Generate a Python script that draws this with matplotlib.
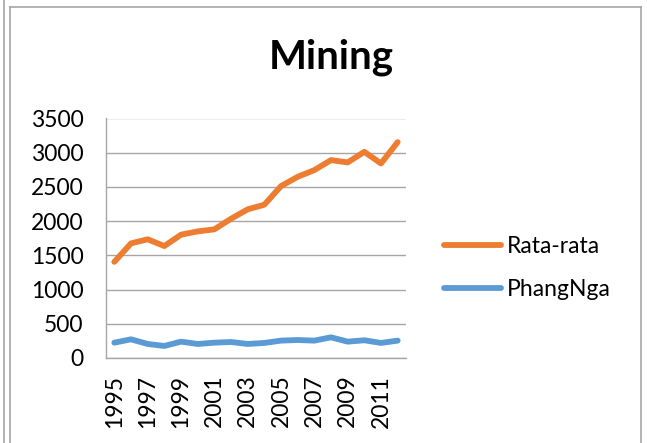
import matplotlib
matplotlib.use("Agg")
import matplotlib.pyplot as plt
from matplotlib.lines import Line2D

years = list(range(1995, 2013))
rata_rata = [1405, 1675, 1735, 1636, 1802, 1850, 1880, 2035, 2172, 2240,
             2512, 2648, 2746, 2892, 2858, 3013, 2843, 3155]
phangnga = [224, 273, 205, 176, 239, 205, 224, 234, 205, 220,
            254, 263, 254, 302, 239, 259, 220, 254]
year_labels = [str(y) if (y - 1995) % 2 == 0 else "" for y in years]
y_ticks = [0, 500, 1000, 1500, 2000, 2500, 3000, 3500]

plt.rcParams['font.family'] = ['Lato', 'DejaVu Sans']
FS = 16.5

W, H = 647, 443
fig = plt.figure(figsize=(W / 100, H / 100), dpi=100)
fig.patch.set_facecolor('white')

ax = fig.add_axes([106 / W, 1 - 358 / H, (406 - 106) / W, (358 - 118.5) / H])
x = list(range(len(years)))
ax.plot(x, rata_rata, color='#ED7D31', lw=4.2, solid_capstyle='round',
        solid_joinstyle='round', label='Rata-rata')
ax.plot(x, phangnga, color='#5B9BD5', lw=4.2, solid_capstyle='round',
        solid_joinstyle='round', label='PhangNga')

ax.set_xlim(-0.5, len(years) - 0.5)
ax.set_ylim(0, 3500)
ax.set_yticks(y_ticks)
ax.set_yticklabels([str(v) for v in y_ticks], fontsize=FS)
ax.set_xticks(x)
ax.set_xticklabels(year_labels, rotation=90, fontsize=FS)
ax.tick_params(axis='both', length=0)
ax.tick_params(axis='y', pad=16)
ax.tick_params(axis='x', pad=12)
ax.grid(axis='y', color='#A6A6A6', lw=1)
ax.set_axisbelow(True)
for s in ['top', 'right']:
    ax.spines[s].set_visible(False)
for s in ['left', 'bottom']:
    ax.spines[s].set_color('#A6A6A6')
    ax.spines[s].set_linewidth(1)

fig.text(331 / W, 1 - 69 / H, 'Mining', ha='center', va='baseline',
         fontsize=29, fontweight='bold')

leg = fig.legend(loc='center left', bbox_to_anchor=(444 / W, 1 - 268 / H),
                 frameon=False, fontsize=FS, handlelength=2.5,
                 labelspacing=0.95, handletextpad=0.25,
                 borderpad=0, borderaxespad=0)

# chart frames
fig.add_artist(Line2D([3.5 / W, 3.5 / W], [0, 1], color='#A6A6A6', lw=1.2))
fig.add_artist(Line2D([9.5 / W, 9.5 / W], [0, 1 - 7 / H], color='#A6A6A6', lw=1.2))
fig.add_artist(Line2D([9.5 / W, 641 / W], [1 - 7 / H, 1 - 7 / H], color='#A6A6A6', lw=1.2))
fig.add_artist(Line2D([641 / W, 641 / W], [0, 1 - 7 / H], color='#A6A6A6', lw=1.2))

fig.savefig('out.png', dpi=100)
